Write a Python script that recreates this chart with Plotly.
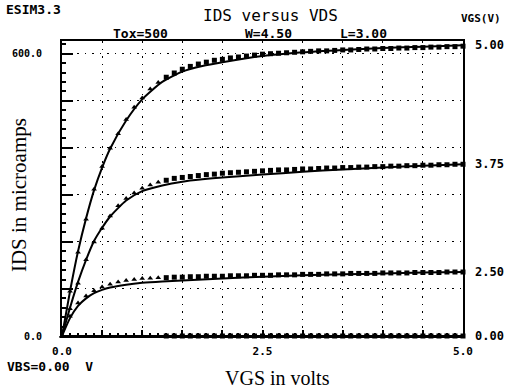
import plotly.graph_objects as go

# ---------------- data ----------------
vds_model = [0.0, 0.1, 0.2, 0.3, 0.4, 0.5, 0.6, 0.8, 1.0, 1.25, 1.5, 1.75, 2.0, 2.5, 3.0, 3.5, 4.0, 4.5, 5.0]
ids_model_500 = [0, 95, 180, 250, 310, 358, 398, 458, 503, 540, 562, 574, 582, 595, 603, 608, 612, 615, 618]
ids_model_375 = [0, 60, 115, 162, 202, 230, 254, 288, 308, 320, 328, 333, 337, 343, 349, 354, 358, 362, 365]
ids_model_250 = [0, 38, 64, 80, 91, 98, 103, 109, 113, 116, 118, 120, 122, 126, 129, 131, 133, 135, 136]
ids_model_000 = [0, 0, 0, 0, 0, 0, 0, 0, 0, 0, 0, 0, 0, 0, 0, 0, 0, 0, 0]

vds_meas = [0.0, 0.1, 0.2, 0.3, 0.4, 0.5, 0.6, 0.7, 0.8, 0.9,
            1.0, 1.1, 1.2, 1.3, 1.4, 1.5, 1.6, 1.7, 1.8, 1.9,
            2.0, 2.1, 2.2, 2.3, 2.4, 2.5, 2.6, 2.7, 2.8, 2.9,
            3.0, 3.1, 3.2, 3.3, 3.4, 3.5, 3.6, 3.7, 3.8, 3.9,
            4.0, 4.1, 4.2, 4.3, 4.4, 4.5, 4.6, 4.7, 4.8, 4.9, 5.0]
ids_meas_500 = [0, 95, 178, 248, 312, 360, 399, 430, 460, 486,
                506, 525, 539, 550, 559, 567, 573, 578, 582, 586,
                588, 591, 593, 595, 597, 599, 600, 601, 602, 603,
                604, 605, 606, 606, 607, 608, 608, 609, 610, 610,
                611, 611, 612, 612, 613, 613, 614, 614, 615, 615, 616]
ids_meas_375 = [0, 58, 112, 162, 200, 229, 255, 277, 292, 304,
                314, 321, 327, 331, 335, 337, 339, 341, 343, 344,
                346, 347, 348, 349, 350, 351, 352, 353, 353, 354,
                355, 355, 356, 357, 357, 358, 358, 359, 359, 360,
                360, 361, 361, 362, 362, 363, 363, 364, 364, 365, 365]
ids_meas_250 = [0, 42, 70, 85, 96, 104, 110, 115, 118, 120,
                122, 123, 124, 124, 125, 125, 126, 126, 127, 127,
                127, 128, 128, 128, 129, 129, 129, 130, 130, 130,
                131, 131, 131, 132, 132, 132, 133, 133, 133, 133,
                134, 134, 134, 134, 135, 135, 135, 135, 136, 136, 136]
ids_meas_000 = [0] * 51

vgs_labels = ["5.00", "3.75", "2.50", "0.00"]
x_tickvals = [0.0, 0.5, 1.0, 1.5, 2.0, 2.5, 3.0, 3.5, 4.0, 4.5, 5.0]
x_ticktext = ["0.0", "", "", "", "", "2.5", "", "", "", "", "5.0"]
y_tickvals = [0, 100, 200, 300, 400, 500, 600]
y_ticktext = ["0.0", "", "", "", "", "", "600.0"]

# ---------------- figure ----------------
fig = go.Figure()
MONO = "DejaVu Sans Mono"
SERIF = "Liberation Serif"

models = [ids_model_500, ids_model_375, ids_model_250, ids_model_000]
meas = [ids_meas_500, ids_meas_375, ids_meas_250, ids_meas_000]

for m in models:
    fig.add_trace(go.Scatter(x=vds_model, y=m, mode="lines",
                             line=dict(color="black", width=2, shape="spline", smoothing=0.6),
                             showlegend=False, hoverinfo="skip", cliponaxis=False))

for s in meas:
    symbols = ["triangle-up" if v < 1.3 else "square" for v in vds_meas]
    fig.add_trace(go.Scatter(x=vds_meas, y=s, mode="markers",
                             marker=dict(color="black", size=5, symbol=symbols),
                             showlegend=False, hoverinfo="skip", cliponaxis=False))

# right-hand VGS labels at curve ends
for lab, m in zip(vgs_labels, models):
    fig.add_annotation(x=1.0, xref="paper", y=m[-1], yref="y", text=lab,
                       xanchor="left", yanchor="middle", xshift=10, showarrow=False,
                       font=dict(family=MONO, size=12, color="black", weight="bold"))

small = dict(family=MONO, size=13, color="black", weight="bold")
texts = [
    ("ESIM3.3", -0.07, 1.108, "center", small),
    ("IDS versus VDS", 0.521, 1.088, "center", dict(family=MONO, size=16, color="black")),
    ("Tox=500", 0.196, 1.027, "center", small),
    ("W=4.50", 0.516, 1.027, "center", small),
    ("L=3.00", 0.752, 1.027, "center", small),
    ("VGS(V)", 1.045, 1.075, "center", dict(family=MONO, size=11, color="black", weight="bold")),
    ("VBS=0.00  V", -0.141, -0.102, "left", small),
    ("VGS in volts", 0.538, -0.142, "center", dict(family=SERIF, size=20, color="black")),
]
for t, x, y, xa, f in texts:
    fig.add_annotation(x=x, y=y, xref="paper", yref="paper", text=t, xanchor=xa,
                       yanchor="middle", showarrow=False, font=f)

fig.add_annotation(x=-0.107, y=0.478, xref="paper", yref="paper", text="IDS in microamps",
                   textangle=-90, showarrow=False, xanchor="center", yanchor="middle",
                   font=dict(family=SERIF, size=21, color="black"))

dash = "1.5px,6px"
fig.update_layout(
    width=508, height=388,
    margin=dict(l=60, r=45, t=41, b=52),
    paper_bgcolor="white", plot_bgcolor="white",
    xaxis=dict(range=[0, 5], tickmode="array", tickvals=x_tickvals, ticktext=x_ticktext,
               showgrid=True, gridcolor="black", gridwidth=1, griddash=dash,
               showline=True, linecolor="black", linewidth=2, mirror=True,
               ticks="inside", ticklen=6, tickcolor="black", tickwidth=1.5,
               minor=dict(tickmode="linear", tick0=0, dtick=0.1, ticks="inside", ticklen=3,
                          tickcolor="black", showgrid=False),
               tickfont=dict(family=MONO, size=11, color="black", weight="bold"),
               ticklabelstandoff=4, zeroline=False, fixedrange=True),
    yaxis=dict(range=[0, 627], tickmode="array", tickvals=y_tickvals, ticktext=y_ticktext,
               showgrid=True, gridcolor="black", gridwidth=1, griddash=dash,
               showline=True, linecolor="black", linewidth=2, mirror=True,
               ticks="inside", ticklen=11, tickcolor="black", tickwidth=1.5,
               minor=dict(tickmode="linear", tick0=0, dtick=20, ticks="inside", ticklen=4,
                          tickcolor="black", showgrid=False),
               tickfont=dict(family=MONO, size=10, color="black", weight="bold"),
               ticklabelstandoff=16, zeroline=False, fixedrange=True),
)

fig.write_html("out.html", config={"displayModeBar": False},
               post_script="document.body.style.margin='0';document.body.style.padding='0';")
